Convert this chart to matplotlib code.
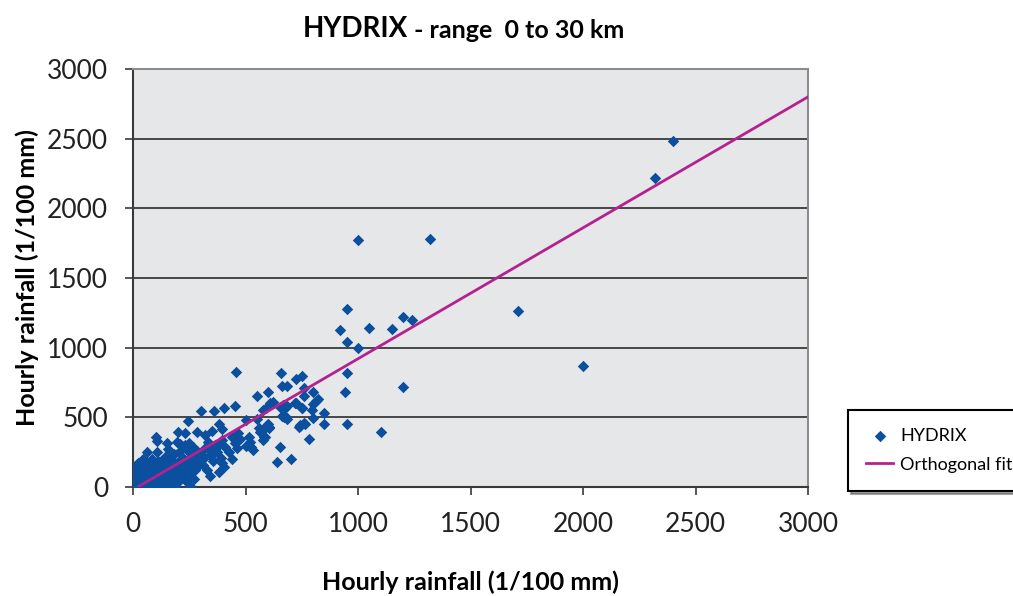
import matplotlib.pyplot as plt

plt.rcParams['font.family'] = ['Lato', 'DejaVu Sans']

# HYDRIX vs gauge hourly rainfall (1/100 mm), range 0-30 km
gauge = [2400, 2320, 1320, 1000, 1710, 2000, 1200, 1100,
         950, 920, 1050, 1150, 1200, 1240, 950, 1000, 952, 940, 950,
         850, 850, 801, 781, 742, 764, 723, 752, 760, 760, 801, 824, 813, 801, 797,
         723, 749, 683, 668, 680, 661, 661, 686, 656, 653, 640, 701,
         458, 550, 598, 621, 591, 576, 610, 655, 677, 670, 721, 751, 596, 588, 603, 743, 759, 737,
         300, 360, 403, 455, 244, 381, 396, 500, 551, 600, 603, 684, 558, 563, 514, 465, 476, 438,
         502, 520, 524, 535, 452, 460, 582, 577, 587, 396, 383, 350, 320, 335, 283, 201, 231,
         102, 105, 152, 194, 209, 216, 250, 268, 342, 357, 406, 394, 384, 342, 313, 298, 253,
         0, 5, 10, 15, 20, 25, 30, 35, 40, 45, 50, 50, 55, 60, 65, 70, 75, 80, 85, 90, 95,
         100, 100, 105, 110, 115, 120, 125, 130, 135, 140, 145, 150, 150, 155, 160, 165, 170,
         175, 180, 185, 190, 195, 200, 205, 210, 215, 220, 225, 230, 235, 240, 245, 250, 255,
         260, 265, 270, 275, 280, 285, 290, 300, 310, 320, 330, 340, 355, 365, 375, 390, 410,
         425, 440, 255, 30, 60, 110, 140, 200, 90, 170, 230, 60, 45, 20, 10, 80, 120, 185]
hydrix = [2480, 2220, 1780, 1770, 1260, 870, 720, 395,
          1278, 1124, 1142, 1131, 1222, 1197, 1040, 997, 817, 681, 452,
          530, 454, 497, 345, 438, 450, 773, 797, 713, 655, 684, 632, 620, 596, 553,
          601, 567, 581, 589, 505, 510, 725, 725, 821, 289, 182, 201,
          823, 655, 680, 608, 565, 553, 601, 576, 565, 505, 601, 565, 445, 421, 421, 445, 457, 433,
          546, 546, 565, 584, 474, 450, 416, 479, 488, 452, 433, 486, 421, 397, 361, 390, 342, 357,
          294, 325, 285, 266, 314, 278, 357, 337, 361, 335, 301, 404, 373, 325, 393, 397, 385,
          361, 330, 318, 325, 309, 294, 313, 289, 266, 237, 146, 170, 110, 81, 158, 194, 7,
          120, 30, 75, 10, 140, 50, 95, 20, 160, 60, 5, 110, 40, 180, 80, 130, 25, 60, 200, 100, 40,
          150, 15, 250, 80, 120, 30, 190, 60, 140, 100, 220, 40, 160, 270, 80, 120, 200,
          50, 240, 150, 100, 30, 180, 250, 130, 70, 210, 160, 110, 40, 190, 260, 140, 90,
          230, 170, 60, 120, 210, 260, 150, 240, 200, 280, 120, 230, 190, 300, 250, 210, 290,
          250, 200, 0, 130, 0, 190, 10, 40, 170, 20, 300, 250, 200, 170, 150, 0, 0, 10]

# orthogonal fit line end points
fit_x = [25, 3000]
fit_y = [4, 2800]

fig = plt.figure(figsize=(10.13, 5.96), dpi=100)
ax = fig.add_axes([133 / 1013, 1 - 487 / 596, 675 / 1013, 418 / 596])
ax.set_facecolor('#e6e7e9')

ax.scatter(gauge, hydrix, marker='D', s=34, color='#0b4f9f', linewidths=0, zorder=3, label='HYDRIX')
ax.plot(fit_x, fit_y, color='#b5218f', lw=2, zorder=4, label='Orthogonal fit')

ax.set_xlim(0, 3000)
ax.set_ylim(0, 3000)
ax.set_xticks(range(0, 3001, 500))
ax.set_yticks(range(0, 3001, 500))
ax.yaxis.grid(True, color='#3a3a3a', lw=1.3)
ax.set_axisbelow(True)
ax.tick_params(labelsize=19, length=6, width=1.2, color='#3a3a3a', labelcolor='#222222')
ax.tick_params(axis='y', pad=12)
ax.tick_params(axis='x', pad=12)
for s in ['top', 'right']:
    ax.spines[s].set_color('#8c8c8c')
    ax.spines[s].set_linewidth(1.5)
for s in ['left', 'bottom']:
    ax.spines[s].set_color('#3a3a3a')
    ax.spines[s].set_linewidth(1.5)

ax.set_xlabel('Hourly rainfall (1/100 mm)', fontsize=18, fontweight='bold', labelpad=24)
ax.set_ylabel('Hourly rainfall (1/100 mm)', fontsize=18, fontweight='bold', labelpad=6)

fig.text(408 / 1013, 0.952, 'HYDRIX', fontsize=20, fontweight='bold', ha='right', va='center')
fig.text(408 / 1013, 0.948, ' - range  0 to 30 km', fontsize=18, fontweight='bold', ha='left', va='center')

leg = fig.legend(loc='upper left', bbox_to_anchor=(848 / 1013, 1 - 410 / 596), fontsize=13,
                 frameon=True, fancybox=False, shadow=True, handlelength=1.5,
                 borderpad=1.0, labelspacing=0.7, handletextpad=0.4, borderaxespad=0)
leg.get_frame().set_edgecolor('black')
leg.get_frame().set_linewidth(1.5)

fig.savefig('out.png', dpi=100)
